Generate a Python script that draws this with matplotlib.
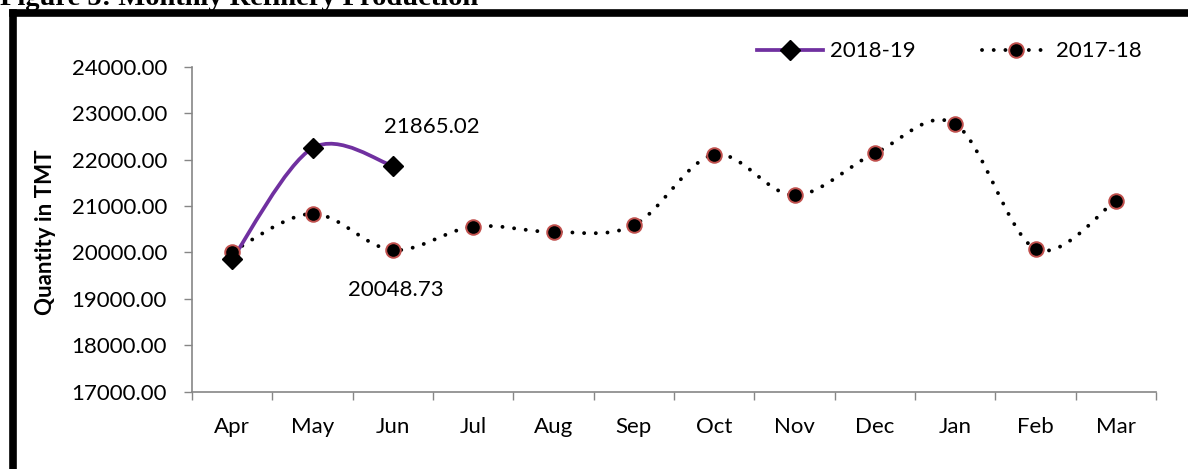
import numpy as np
import matplotlib
matplotlib.use("Agg")
import matplotlib.pyplot as plt
from matplotlib.path import Path
from matplotlib.patches import PathPatch
from matplotlib.lines import Line2D
from matplotlib.ticker import FormatStrFormatter, MultipleLocator

months = ['Apr', 'May', 'Jun', 'Jul', 'Aug', 'Sep', 'Oct', 'Nov', 'Dec', 'Jan', 'Feb', 'Mar']
prod_1819 = [19850.0, 22245.0, 21865.02]
prod_1718 = [20015.0, 20830.0, 20048.73, 20555.0, 20440.0, 20585.0,
             22105.0, 21230.0, 22135.0, 22765.0, 20075.0, 21115.0]

title = 'Figure 5: Monthly Refinery Production'
ylabel = 'Quantity in TMT'
W, H = 1188, 469
FS = 16

plt.rcParams['font.family'] = ['Lato', 'DejaVu Sans']


def smooth_path(x, y):
    # excel-like smoothed line: cubic bezier through every point
    p = np.column_stack([x, y]).astype(float)
    n = len(p)
    verts = [p[0]]
    codes = [Path.MOVETO]
    for i in range(n - 1):
        p0 = p[i - 1] if i > 0 else p[i]
        p3 = p[i + 2] if i + 2 < n else p[i + 1]
        c1 = p[i] + (p[i + 1] - p0) / 6.0
        c2 = p[i + 1] - (p3 - p[i]) / 6.0
        verts += [c1, c2, p[i + 1]]
        codes += [Path.CURVE4] * 3
    return Path(verts, codes)


fig = plt.figure(figsize=(W / 100, H / 100), dpi=100)
ax = fig.add_axes([192 / W, 1 - 391.5 / H, 964 / W, 324.8 / H])

x17 = np.arange(len(prod_1718))
x18 = np.arange(len(prod_1819))

dots = (0, (0.01, 3.0))
ax.add_patch(PathPatch(smooth_path(x17, prod_1718), fill=False, edgecolor='black',
                       linewidth=2.8, linestyle=dots, capstyle='round', zorder=2))
ax.add_patch(PathPatch(smooth_path(x18, prod_1819), fill=False, edgecolor='#7030A0',
                       linewidth=2.7, capstyle='round', zorder=3))
ax.plot(x17, prod_1718, linestyle='none', marker='o', markersize=10.5,
        markerfacecolor='black', markeredgecolor='#C0504D', markeredgewidth=1.4, zorder=4)
ax.plot(x18, prod_1819, linestyle='none', marker='D', markersize=10,
        markerfacecolor='black', markeredgecolor='black', zorder=5)

ax.annotate('%.2f' % prod_1819[2], (x18[2], prod_1819[2]), xytext=(28, 28),
            textcoords='offset points', ha='center', va='center', fontsize=FS)
ax.annotate('%.2f' % prod_1718[2], (x17[2], prod_1718[2]), xytext=(2, -29),
            textcoords='offset points', ha='center', va='center', fontsize=FS)

ax.set_xlim(-0.5, 11.5)
ax.set_ylim(17000, 24000)
ax.yaxis.set_major_locator(MultipleLocator(1000))
ax.yaxis.set_major_formatter(FormatStrFormatter('%.2f'))
ax.set_xticks(x17)
ax.set_xticklabels(months)
ax.set_xticks(np.arange(-0.5, 12, 1), minor=True)
ax.tick_params(axis='x', which='major', length=0, pad=18, labelsize=FS)
ax.tick_params(axis='x', which='minor', length=6, width=1, color='#868686', direction='out')
ax.tick_params(axis='y', length=6, width=1, color='#868686', pad=12, labelsize=FS)
for s in ['top', 'right']:
    ax.spines[s].set_visible(False)
for s in ['left', 'bottom']:
    ax.spines[s].set_color('#868686')
    ax.spines[s].set_linewidth(1.2)

ax.set_ylabel(ylabel, fontsize=FS, fontweight='bold')
ax.yaxis.set_label_coords((56 - 192) / 964, 0.49)

handles = [
    Line2D([], [], color='#7030A0', linewidth=2.7, marker='D', markersize=10,
           markerfacecolor='black', markeredgecolor='black'),
    Line2D([], [], color='black', linewidth=2.8, linestyle=dots,
           dash_capstyle='round', marker='o', markersize=10.5,
           markerfacecolor='black', markeredgecolor='#C0504D', markeredgewidth=1.4),
]
ax.legend(handles, ['2018-19', '2017-18'], loc='center right', ncol=2, frameon=False,
          bbox_to_anchor=(0.994, 1.047), fontsize=FS, handlelength=3.0,
          handletextpad=0.3, columnspacing=3.0, borderaxespad=0)

# outer frame (cut by the page on right and bottom)
fig.add_artist(Line2D([13 / W, 13 / W], [1 - 13.5 / H, -0.05], color='black',
                      linewidth=5.5, solid_capstyle='projecting', transform=fig.transFigure))
fig.add_artist(Line2D([13 / W, 1.05], [1 - 13.5 / H, 1 - 13.5 / H], color='black',
                      linewidth=5.5, solid_capstyle='projecting', transform=fig.transFigure))

fig.text(0, 1 - 5 / H, title, family='Liberation Serif', fontweight='bold',
         fontsize=20.5, ha='left', va='baseline')

fig.savefig('out.png', dpi=100)
